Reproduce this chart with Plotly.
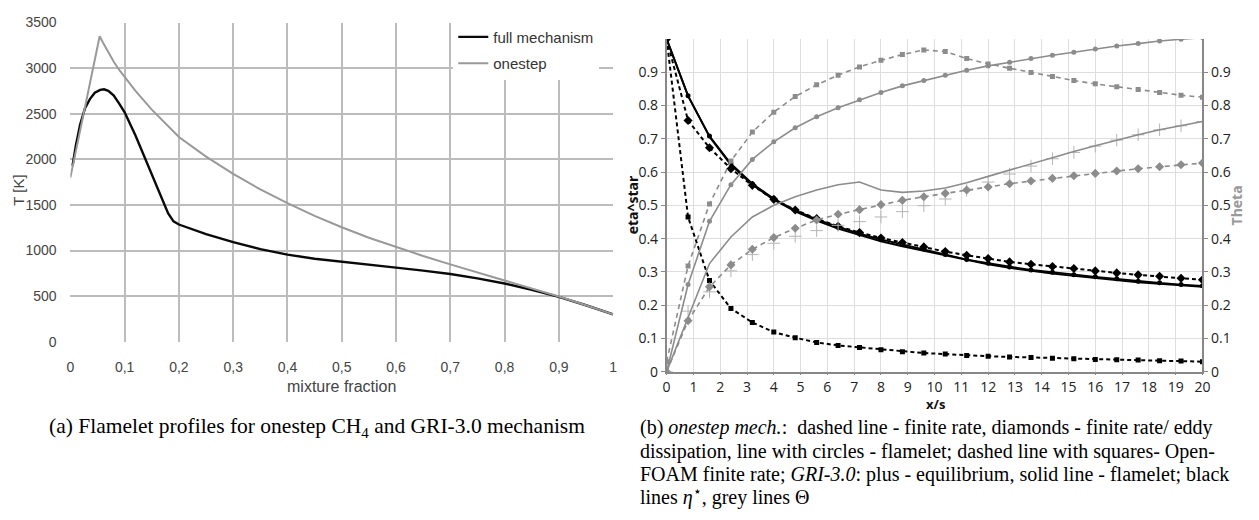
import plotly.graph_objects as go

# ---------------- (a) flamelet temperature profiles ----------------
z_full = [0.004, 0.01, 0.018, 0.027, 0.036, 0.045, 0.055, 0.062, 0.07, 0.08, 0.09,
          0.10, 0.12, 0.14, 0.16, 0.18, 0.19, 0.20, 0.25, 0.30, 0.35, 0.40, 0.45,
          0.50, 0.55, 0.60, 0.65, 0.70, 0.75, 0.80, 0.85, 0.90, 0.95, 1.00]
T_full = [1930, 2150, 2380, 2560, 2660, 2730, 2762, 2768, 2750, 2700, 2610,
          2515, 2260, 1975, 1690, 1410, 1320, 1285, 1180, 1092, 1015, 955, 910,
          875, 843, 812, 780, 742, 695, 638, 570, 492, 400, 300]

z_one = [0.0, 0.054, 0.06, 0.07, 0.08, 0.09, 0.10, 0.12, 0.15, 0.20, 0.25, 0.30, 0.35,
         0.40, 0.45, 0.50, 0.55, 0.60, 0.65, 0.70, 0.75, 0.80, 0.85, 0.90, 0.95, 1.00]
T_one = [1800, 3350, 3280, 3170, 3070, 2980, 2900, 2750, 2545, 2245, 2030, 1840, 1670,
         1520, 1380, 1255, 1140, 1036, 940, 848, 760, 671, 585, 495, 400, 300]

z_ticks = [0, 0.1, 0.2, 0.3, 0.4, 0.5, 0.6, 0.7, 0.8, 0.9, 1.0]
z_labels = ["0", "0,1", "0,2", "0,3", "0,4", "0,5", "0,6", "0,7", "0,8", "0,9", "1"]
T_ticks = [0, 500, 1000, 1500, 2000, 2500, 3000, 3500]

# ---------------- (b) eta* and Theta along x/s ----------------
xs = [0, 0.8, 1.6, 2.4, 3.2, 4.0, 4.8, 5.6, 6.4, 7.2, 8.0, 8.8, 9.6,
      10.4, 11.2, 12.0, 12.8, 13.6, 14.4, 15.2, 16.0, 16.8, 17.6, 18.4, 19.2, 20.0]

# black: eta*
eta_flamelet_onestep = [1.0, 0.829, 0.708, 0.625, 0.565, 0.520, 0.485, 0.458, 0.435, 0.415,
                        0.398, 0.383, 0.369, 0.352, 0.337, 0.326, 0.315, 0.306, 0.299,
                        0.291, 0.285, 0.279, 0.272, 0.267, 0.262, 0.258]
eta_flamelet_gri = [1.0, 0.829, 0.706, 0.622, 0.562, 0.517, 0.482, 0.454, 0.430, 0.410,
                    0.392, 0.377, 0.363, 0.349, 0.335, 0.323, 0.312, 0.303, 0.295,
                    0.288, 0.281, 0.275, 0.269, 0.264, 0.259, 0.255]
eta_edc = [1.0, 0.755, 0.673, 0.610, 0.560, 0.518, 0.486, 0.460, 0.437, 0.418,
           0.402, 0.388, 0.375, 0.361, 0.350, 0.340, 0.330, 0.323, 0.316,
           0.310, 0.303, 0.297, 0.291, 0.287, 0.281, 0.276]
eta_openfoam = [1.0, 0.465, 0.274, 0.190, 0.148, 0.119, 0.102, 0.088, 0.079, 0.073,
                0.066, 0.060, 0.056, 0.053, 0.049, 0.0465, 0.0445, 0.0426, 0.0407,
                0.0388, 0.037, 0.036, 0.035, 0.033, 0.032, 0.030]

# grey: Theta
theta_openfoam = [0.03, 0.318, 0.504, 0.633, 0.720, 0.780, 0.827, 0.862, 0.891, 0.916,
                  0.936, 0.953, 0.967, 0.962, 0.941, 0.925, 0.912, 0.899, 0.887,
                  0.875, 0.865, 0.856, 0.848, 0.839, 0.831, 0.825]
theta_flamelet_onestep = [0.0, 0.262, 0.452, 0.562, 0.638, 0.691, 0.733, 0.766, 0.793, 0.817,
                          0.839, 0.859, 0.875, 0.891, 0.906, 0.919, 0.930, 0.941, 0.951,
                          0.960, 0.970, 0.979, 0.986, 0.994, 0.999, 1.004]
theta_flamelet_gri = [0.0, 0.163, 0.325, 0.405, 0.465, 0.500, 0.526, 0.546, 0.562, 0.570,
                      0.546, 0.539, 0.543, 0.552, 0.568, 0.587, 0.606, 0.626, 0.644,
                      0.662, 0.679, 0.696, 0.712, 0.727, 0.740, 0.752]
theta_edc = [0.0, 0.153, 0.255, 0.321, 0.368, 0.403, 0.431, 0.456, 0.473, 0.487,
             0.502, 0.515, 0.526, 0.536, 0.546, 0.555, 0.565, 0.573, 0.581,
             0.589, 0.596, 0.603, 0.610, 0.616, 0.622, 0.627]
theta_equilibrium = [0.0, 0.182, 0.240, 0.303, 0.352, 0.386, 0.407, 0.424, 0.440, 0.451,
                     0.465, 0.481, 0.499, 0.519, 0.545, 0.570, 0.594, 0.618, 0.640,
                     0.659, 0.678, 0.696, 0.712, 0.727, 0.739, 0.752]

xs_ticks = list(range(0, 21))
v_ticks = [0, 0.1, 0.2, 0.3, 0.4, 0.5, 0.6, 0.7, 0.8, 0.9]
v_labels = ["0", "0.1", "0.2", "0.3", "0.4", "0.5", "0.6", "0.7", "0.8", "0.9"]

W, H = 1259, 520


def px_x(p):
    return p / W


def px_y(p):
    return 1 - p / H


BLACK = "#000000"
GREY = "#8c8c8c"
LIGHT = "#b4b4b4"

fig = go.Figure()

# (a)
fig.add_trace(go.Scatter(x=z_full, y=T_full, mode="lines", name="full mechanism",
                         legendgroup="a1", line=dict(color="#0a0a0a", width=2.4),
                         xaxis="x", yaxis="y"))
fig.add_trace(go.Scatter(x=z_one, y=T_one, mode="lines", name="onestep",
                         legendgroup="a2", line=dict(color="#999999", width=2),
                         xaxis="x", yaxis="y"))

# (b) grey Theta curves
fig.add_trace(go.Scatter(x=xs, y=theta_equilibrium, mode="markers", showlegend=False,
                         marker=dict(symbol="cross-thin", size=9,
                                     line=dict(color=LIGHT, width=1)),
                         xaxis="x2", yaxis="y3"))
fig.add_trace(go.Scatter(x=xs, y=theta_flamelet_gri, mode="lines", showlegend=False,
                         line=dict(color=GREY, width=1.6), xaxis="x2", yaxis="y3"))
fig.add_trace(go.Scatter(x=xs, y=theta_flamelet_onestep, mode="lines+markers", showlegend=False,
                         line=dict(color=GREY, width=1.6),
                         marker=dict(symbol="circle", size=5, color=GREY),
                         xaxis="x2", yaxis="y3"))
fig.add_trace(go.Scatter(x=xs, y=theta_edc, mode="lines+markers", showlegend=False,
                         line=dict(color=GREY, width=1.6, dash="5px,4px"),
                         marker=dict(symbol="diamond", size=7, color=GREY),
                         xaxis="x2", yaxis="y3"))
fig.add_trace(go.Scatter(x=xs, y=theta_openfoam, mode="lines+markers", showlegend=False,
                         line=dict(color=GREY, width=1.6, dash="5px,4px"),
                         marker=dict(symbol="square", size=5, color=GREY),
                         xaxis="x2", yaxis="y3"))

# (b) black eta* curves
fig.add_trace(go.Scatter(x=xs, y=eta_flamelet_gri, mode="lines", showlegend=False,
                         line=dict(color=BLACK, width=2), xaxis="x2", yaxis="y2"))
fig.add_trace(go.Scatter(x=xs, y=eta_flamelet_onestep, mode="lines+markers", showlegend=False,
                         line=dict(color=BLACK, width=1.8),
                         marker=dict(symbol="circle", size=5, color=BLACK),
                         xaxis="x2", yaxis="y2"))
fig.add_trace(go.Scatter(x=xs, y=eta_edc, mode="lines+markers", showlegend=False,
                         line=dict(color=BLACK, width=2, dash="4px,3px"),
                         marker=dict(symbol="diamond", size=7, color=BLACK),
                         xaxis="x2", yaxis="y2"))
fig.add_trace(go.Scatter(x=xs, y=eta_openfoam, mode="lines+markers", showlegend=False,
                         line=dict(color=BLACK, width=2, dash="4px,3px"),
                         marker=dict(symbol="square", size=5, color=BLACK),
                         xaxis="x2", yaxis="y2"))

sans_a = dict(family="Liberation Sans, Arial, sans-serif", size=14, color="#444444")
sans_b = dict(family="Open Sans, DejaVu Sans, sans-serif", size=14, color="#222222")
serif_a = dict(family="Liberation Serif, Times New Roman, serif", size=21.5, color="#000000")
serif_b = dict(family="Liberation Serif, Times New Roman, serif", size=20, color="#000000")

fig.update_layout(
    width=W, height=H,
    margin=dict(l=0, r=0, t=0, b=0),
    paper_bgcolor="white", plot_bgcolor="white",
    showlegend=True,
    legend=dict(x=px_x(601), xanchor="right", y=px_y(13), yanchor="top",
                bgcolor="white", borderwidth=0, tracegroupgap=4,
                font=dict(family="Liberation Sans, Arial, sans-serif", size=15, color="#333333")),
    xaxis=dict(domain=[px_x(67), px_x(615)], range=[0, 1], anchor="y",
               tickvals=z_ticks, ticktext=z_labels, tickfont=sans_a,
               showgrid=True, gridcolor="#bcbcbc", gridwidth=1.5, zeroline=False,
               showline=False, ticks="outside", ticklen=12, tickcolor="rgba(0,0,0,0)"),
    yaxis=dict(domain=[px_y(345), px_y(15)], range=[0, 3500], anchor="x",
               tickvals=T_ticks, tickfont=sans_a,
               showgrid=True, gridcolor="#bcbcbc", gridwidth=1.5, zeroline=False,
               showline=False, ticks="outside", ticklen=10, tickcolor="rgba(0,0,0,0)"),
    xaxis2=dict(domain=[px_x(669), px_x(1210)], range=[0, 20], anchor="y2",
                tickvals=xs_ticks, tickfont=sans_b,
                showgrid=True, gridcolor="#dedede", gridwidth=1, zeroline=False,
                showline=True, linecolor="#888888", linewidth=1.5,
                ticks="outside", ticklen=2, tickcolor="#888888"),
    yaxis2=dict(domain=[px_y(376), px_y(32)], range=[0, 1], anchor="x2",
                tickvals=v_ticks, ticktext=v_labels, tickfont=sans_b,
                showgrid=True, gridcolor="#dedede", gridwidth=1, zeroline=False,
                showline=True, linecolor="#888888", linewidth=1.5,
                ticks="outside", ticklen=4, tickcolor="#888888"),
    yaxis3=dict(range=[0, 1], anchor="x2", overlaying="y2", side="right",
                tickvals=v_ticks, ticktext=v_labels, tickfont=sans_b,
                showgrid=False, zeroline=False,
                showline=True, linecolor="#888888", linewidth=1.5,
                ticks="outside", ticklen=4, tickcolor="#888888"),
)

# white backing behind the legend of (a), hiding the grid underneath it
fig.add_shape(type="rect", xref="paper", yref="paper",
              x0=px_x(437), x1=px_x(613), y0=px_y(85), y1=px_y(19),
              fillcolor="white", line=dict(width=0), layer="between")

annotations = [
    # axis titles (a)
    dict(text="T [K]", x=px_x(15), y=px_y(188), textangle=-90,
         font=dict(family="Liberation Sans, Arial, sans-serif", size=15, color="#444444")),
    dict(text="mixture fraction", x=px_x(341), y=px_y(391),
         font=dict(family="Liberation Sans, Arial, sans-serif", size=16, color="#444444")),
    # axis titles (b)
    dict(text="<b>eta^star</b>", x=px_x(634), y=px_y(203), textangle=-90,
         font=dict(family="Open Sans, DejaVu Sans, sans-serif", size=14, color="#111111")),
    dict(text="<b>Theta</b>", x=px_x(1244), y=px_y(204), textangle=-90,
         font=dict(family="Open Sans, DejaVu Sans, sans-serif", size=14, color="#999999")),
    dict(text="<b>x/s</b>", x=px_x(940), y=px_y(409),
         font=dict(family="Open Sans, DejaVu Sans, sans-serif", size=13, color="#111111")),
    # captions
    dict(text="(a) Flamelet profiles for onestep CH<sub>4</sub> and GRI-3.0 mechanism",
         x=px_x(316), y=px_y(434), font=serif_a),
    dict(text="(b) <i>onestep mech.</i>:  dashed line - finite rate, diamonds - finite rate/ eddy",
         x=px_x(640), y=px_y(434), xanchor="left", font=serif_b),
    dict(text="dissipation, line with circles - flamelet; dashed line with squares- Open-",
         x=px_x(640), y=px_y(458), xanchor="left", font=serif_b),
    dict(text="FOAM finite rate; <i>GRI-3.0</i>: plus - equilibrium, solid line - flamelet; black",
         x=px_x(640), y=px_y(482), xanchor="left", font=serif_b),
    dict(text="lines <i>η</i><sup>⋆</sup>, grey lines Θ",
         x=px_x(640), y=px_y(505), xanchor="left", font=serif_b),
]
for a in annotations:
    a.setdefault("xanchor", "center")
    a.update(xref="paper", yref="paper", yanchor="middle", showarrow=False)
fig.update_layout(annotations=annotations)

fig.write_html("out.html")
